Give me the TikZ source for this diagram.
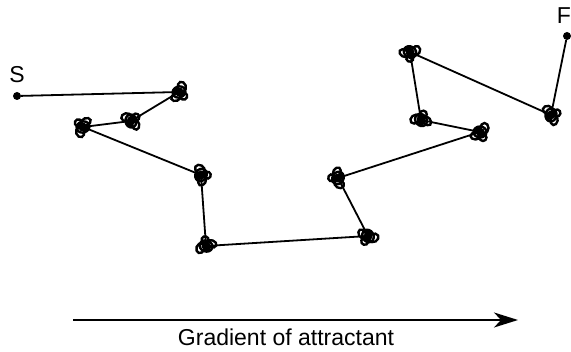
\documentclass[tikz,border=0pt]{standalone}
\usepackage{fontspec}
\setmainfont{Liberation Sans}
\usetikzlibrary{arrows.meta}
\tikzset{
  path/.style={line width=1.8pt},
  enddot/.style={circle,fill=black,inner sep=0pt,minimum size=8pt},
  lbl/.style={font=\fontsize{23}{26}\selectfont,inner sep=0pt},
  tumble/.pic={
    \draw[line width=2.4pt] (0,0) circle[x radius=6.5,y radius=5.5];
    \draw[line width=2.4pt] (4.5,-4) circle[x radius=4,y radius=5];
    \draw[line width=2.4pt] (-4.5,4) circle[x radius=5,y radius=3.5];
    \draw[line width=2.4pt] (3,5.5) circle[radius=3.5];
    \fill (0.5,0.5) circle[radius=4.5];
    \fill (-2.5,-2) circle[radius=3];
  }
}
\begin{document}
\begin{tikzpicture}[x=1pt,y=-1pt]
\useasboundingbox (0,0) rectangle (571,352);
\node[enddot] (S) at (17,96) {};
\node[lbl] (Slab) at (17,75) {S};
\node[enddot] (F) at (567,36) {};
\node[lbl,anchor=east] (Flab) at (571,16) {F};
\coordinate (t1) at (179,92);
\coordinate (t2) at (131,121);
\coordinate (t3) at (83,127);
\coordinate (t4) at (201,175);
\coordinate (t5) at (206,246);
\coordinate (t6) at (368,236);
\coordinate (t7) at (338,178);
\coordinate (t8) at (480,132);
\coordinate (t9) at (421,120);
\coordinate (t10) at (410,52);
\coordinate (t11) at (551,115);
\draw[path] (S) -- (t1) -- (t2) -- (t3) -- (t4) -- (t5) -- (t6) -- (t7) -- (t8) -- (t9) -- (t10) -- (t11) -- (F);
\pic[rotate=20] at (t1) {tumble};
\pic[rotate=100] at (t2) {tumble};
\pic[rotate=200] at (t3) {tumble};
\pic[rotate=60] at (t4) {tumble};
\pic[rotate=160] at (t5) {tumble};
\pic[rotate=300] at (t6) {tumble};
\pic[rotate=240] at (t7) {tumble};
\pic[rotate=0] at (t8) {tumble};
\pic[rotate=130] at (t9) {tumble};
\pic[rotate=330] at (t10) {tumble};
\pic[rotate=80] at (t11) {tumble};
\coordinate (a0) at (73,320);
\coordinate (a1) at (518,320);
\draw[line width=1.8pt,-{Stealth[length=24pt,width=15pt,inset=7pt]}] (a0) -- (a1);
\node[lbl] (grad) at (286,337) {Gradient of attractant};
\end{tikzpicture}
\end{document}
